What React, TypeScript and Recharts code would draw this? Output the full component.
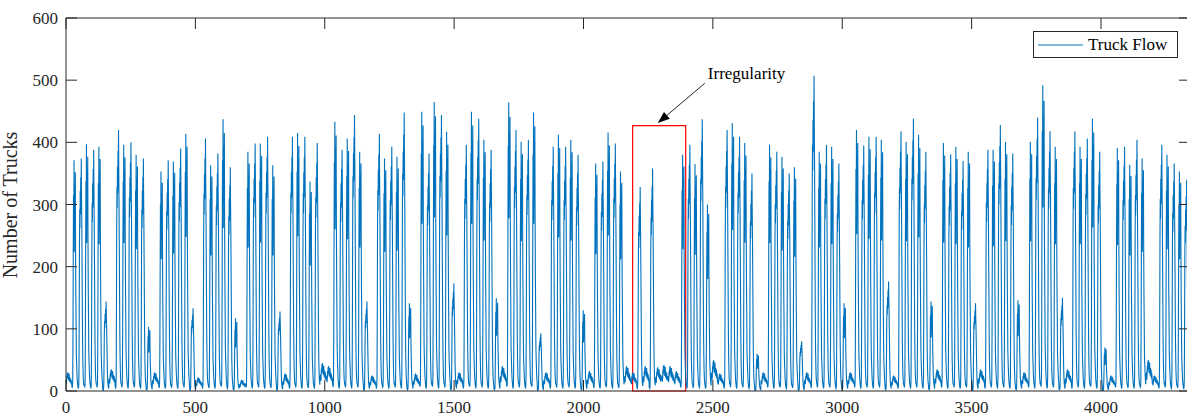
import React from 'react';
import { LineChart, Line, XAxis, YAxis, ReferenceArea, ReferenceLine, Legend } from 'recharts';

if (typeof document !== 'undefined') {
  document.body.style.margin = '0';
  document.body.style.overflow = 'hidden';
}

// ---------- data ----------
const X_TICKS = [0, 500, 1000, 1500, 2000, 2500, 3000, 3500, 4000];
const Y_TICKS = [0, 100, 200, 300, 400, 500, 600];
const X_MAX = 4344; // hours shown on the x axis
const HOUR_OFFSET = 2; // the series starts at hour 2 of the first day (a Sunday)

// typical hourly shapes of a working day, relative to that day's peak
const WEEKDAY_PROFILE_A = [
  0.02, 0.015, 0.01, 0.02, 0.06, 0.3, 0.62, 0.78, 0.7, 0.86, 0.76, 0.92,
  0.8, 1.0, 0.84, 0.72, 0.55, 0.38, 0.22, 0.13, 0.08, 0.05, 0.035, 0.025,
];
const WEEKDAY_PROFILE_B = [
  0.03, 0.02, 0.015, 0.02, 0.05, 0.25, 0.58, 0.85, 0.66, 1.0, 0.6, 0.82,
  0.9, 0.7, 0.95, 0.62, 0.42, 0.3, 0.16, 0.12, 0.09, 0.06, 0.04, 0.03,
];
// hourly shape of a quiet day (Sundays and the irregular week), relative to its peak
const QUIET_PROFILE = [
  0.55, 0.42, 0.6, 0.35, 0.5, 0.8, 0.62, 0.95, 0.7, 1.0, 0.72, 0.86,
  0.58, 0.78, 0.92, 0.66, 0.5, 0.74, 0.6, 0.45, 0.68, 0.4, 0.58, 0.48,
];

// daily peak number of trucks, one value per day (Sun, then Mon..Sun weeks)
const DAY0_PEAK = [30];
const WEEK_PEAKS_1 = [
  371, 374, 397, 388, 393, 144, 35,
  420, 396, 400, 380, 374, 103, 30,
  353, 371, 369, 390, 414, 133, 22,
  406, 363, 382, 437, 360, 117, 18,
  385, 398, 398, 409, 363, 128, 28,
  409, 415, 409, 337, 399, 45, 40,
  433, 388, 406, 444, 385, 144, 25,
  414, 374, 393, 377, 448, 141, 28,
  449, 382, 465, 444, 417, 173, 30,
  396, 449, 438, 404, 388, 149, 40,
  464, 420, 401, 404, 448, 93, 30,
  393, 412, 393, 404, 380, 130, 32,
  366, 369, 416, 398, 353, 40, 30,
];
const IRREGULAR_WEEK_PEAKS = [328, 40, 358, 38, 42, 40, 32];
const WEEK_PEAKS_2 = [
  380, 396, 365, 437, 300, 50, 28,
  420, 431, 409, 399, 350, 60, 30,
  396, 385, 377, 350, 360, 80, 30,
  507, 385, 396, 393, 366, 141, 30,
  420, 395, 409, 409, 404, 176, 25,
  418, 401, 438, 412, 385, 144, 35,
  399, 381, 393, 370, 385, 141, 35,
  388, 388, 428, 401, 382, 146, 30,
  401, 440, 492, 418, 393, 150, 35,
  418, 393, 406, 438, 385, 70, 25,
  391, 393, 364, 404, 374, 50, 25,
  396, 380, 366, 353, 340, 140,
];
const DAILY_PEAKS = [...DAY0_PEAK, ...WEEK_PEAKS_1, ...IRREGULAR_WEEK_PEAKS, ...WEEK_PEAKS_2];

const SERIES_NAME = 'Truck Flow';
const Y_LABEL = 'Number of Trucks';
const ANNOTATION = 'Irregularity';
const BOX = { x1: 2190, x2: 2395, y1: 0, y2: 427 };
const ARROW_FROM = { x: 2469, y: 495 };
const ARROW_TO = { x: 2287, y: 431 };

const data: { t: number; trucks: number }[] = [];
DAILY_PEAKS.forEach((peak, d) => {
  const profile = peak >= 60 ? (d % 2 === 0 ? WEEKDAY_PROFILE_A : WEEKDAY_PROFILE_B) : QUIET_PROFILE;
  profile.forEach((p, h) => {
    const t = d * 24 + h - HOUR_OFFSET;
    if (t < 0 || t >= X_MAX) return;
    data.push({ t, trucks: Math.max(1, Math.round(peak * p)) });
  });
});

// ---------- styling ----------
const FONT = '"Liberation Serif", "Times New Roman", serif';
const AXIS = '#262626';
const BLUE = '#0072BD';
const TICK_LEN = 11;
const FS = 17;

const BottomTick = (props: any) => {
  const { x, y, payload } = props;
  const axisY = y - 10;
  return (
    <g>
      <line x1={x} x2={x} y1={axisY} y2={axisY - TICK_LEN} stroke={AXIS} strokeWidth={1} />
      <text x={x} y={y} dy="0.71em" textAnchor="middle" fill={AXIS} fontSize={FS} fontFamily={FONT}>
        {payload.value}
      </text>
    </g>
  );
};
const TopTick = (props: any) => {
  const { x, y } = props;
  return <line x1={x} x2={x} y1={y} y2={y + TICK_LEN} stroke={AXIS} strokeWidth={1} />;
};
const LeftTick = (props: any) => {
  const { x, y, payload } = props;
  const axisX = x + 8;
  return (
    <g>
      <line x1={axisX} x2={axisX + TICK_LEN} y1={y} y2={y} stroke={AXIS} strokeWidth={1} />
      <text x={x} y={y} dy="0.36em" textAnchor="end" fill={AXIS} fontSize={FS} fontFamily={FONT}>
        {payload.value}
      </text>
    </g>
  );
};
const RightTick = (props: any) => {
  const { x, y } = props;
  return <line x1={x} x2={x - TICK_LEN} y1={y} y2={y} stroke={AXIS} strokeWidth={1} />;
};

const ArrowShape = (props: any) => {
  const { x1, y1, x2, y2 } = props;
  const dx = x2 - x1;
  const dy = y2 - y1;
  const len = Math.sqrt(dx * dx + dy * dy) || 1;
  const ux = dx / len;
  const uy = dy / len;
  const headL = 12;
  const headW = 4.5;
  const bx = x2 - ux * headL;
  const by = y2 - uy * headL;
  const pts = `${x2},${y2} ${bx - uy * headW},${by + ux * headW} ${bx + uy * headW},${by - ux * headW}`;
  return (
    <g>
      <line x1={x1} y1={y1} x2={bx} y2={by} stroke="#262626" strokeWidth={1} />
      <polygon points={pts} fill="#000" />
      <text x={x1 + 3} y={y1 - 4} fontSize={FS} fontFamily={FONT} fill="#000">
        {ANNOTATION}
      </text>
    </g>
  );
};

const LegendBox = () => (
  <div
    style={{
      width: 145,
      height: 27,
      boxSizing: 'border-box',
      border: `1px solid ${AXIS}`,
      background: '#fff',
      display: 'flex',
      alignItems: 'center',
      fontFamily: FONT,
      fontSize: FS,
      color: '#000',
    }}
  >
    <svg width={50} height={10} style={{ display: 'block' }}>
      <line x1={4} x2={49} y1={5} y2={5} stroke={BLUE} strokeWidth={1} />
    </svg>
    <span style={{ marginLeft: 4, lineHeight: '1' }}>{SERIES_NAME}</span>
  </div>
);

export default function App() {
  return (
    <LineChart width={1191} height={417} data={data} margin={{ top: 8, right: 0, bottom: 0, left: 0 }}>
      <XAxis
        xAxisId="b"
        dataKey="t"
        type="number"
        domain={[0, X_MAX]}
        ticks={X_TICKS}
        orientation="bottom"
        height={26}
        tickLine={false}
        tickSize={0}
        tickMargin={10}
        interval={0}
        stroke={AXIS}
        tick={BottomTick}
        allowDataOverflow
      />
      <XAxis
        xAxisId="top"
        dataKey="t"
        type="number"
        domain={[0, X_MAX]}
        ticks={X_TICKS}
        orientation="top"
        height={10}
        tickLine={false}
        tickSize={0}
        tickMargin={0}
        interval={0}
        stroke={AXIS}
        tick={TopTick}
        allowDataOverflow
      />
      <YAxis
        yAxisId="l"
        type="number"
        domain={[0, 600]}
        ticks={Y_TICKS}
        width={66}
        tickLine={false}
        tickSize={0}
        tickMargin={8}
        interval={0}
        stroke={AXIS}
        tick={LeftTick}
        allowDataOverflow
        label={{
          content: () => (
            <text
              x={17}
              y={205}
              transform="rotate(-90, 17, 205)"
              textAnchor="middle"
              fontSize={20}
              fontFamily={FONT}
              fill={AXIS}
            >
              {Y_LABEL}
            </text>
          ),
        }}
      />
      <YAxis
        yAxisId="r"
        orientation="right"
        type="number"
        domain={[0, 600]}
        ticks={Y_TICKS}
        width={1}
        tickLine={false}
        tickSize={0}
        tickMargin={0}
        interval={0}
        stroke={AXIS}
        tick={RightTick}
        allowDataOverflow
      />
      <Line
        xAxisId="b"
        yAxisId="l"
        type="linear"
        dataKey="trucks"
        name={SERIES_NAME}
        stroke={BLUE}
        strokeWidth={1.1}
        dot={false}
        activeDot={false}
        isAnimationActive={false}
      />
      <ReferenceArea
        xAxisId="b"
        yAxisId="l"
        x1={BOX.x1}
        x2={BOX.x2}
        y1={BOX.y1}
        y2={BOX.y2}
        fill="none"
        fillOpacity={0}
        stroke="#FF0000"
        strokeWidth={1.2}
        ifOverflow="visible"
      />
      <ReferenceLine
        xAxisId="b"
        yAxisId="l"
        segment={[ARROW_FROM, ARROW_TO]}
        stroke="#262626"
        ifOverflow="visible"
        shape={ArrowShape}
      />
      <Legend
        layout="horizontal"
        verticalAlign="middle"
        align="center"
        content={() => <LegendBox />}
        wrapperStyle={{ position: 'absolute', left: 1033, top: 31, width: 145, height: 27 }}
      />
    </LineChart>
  );
}
